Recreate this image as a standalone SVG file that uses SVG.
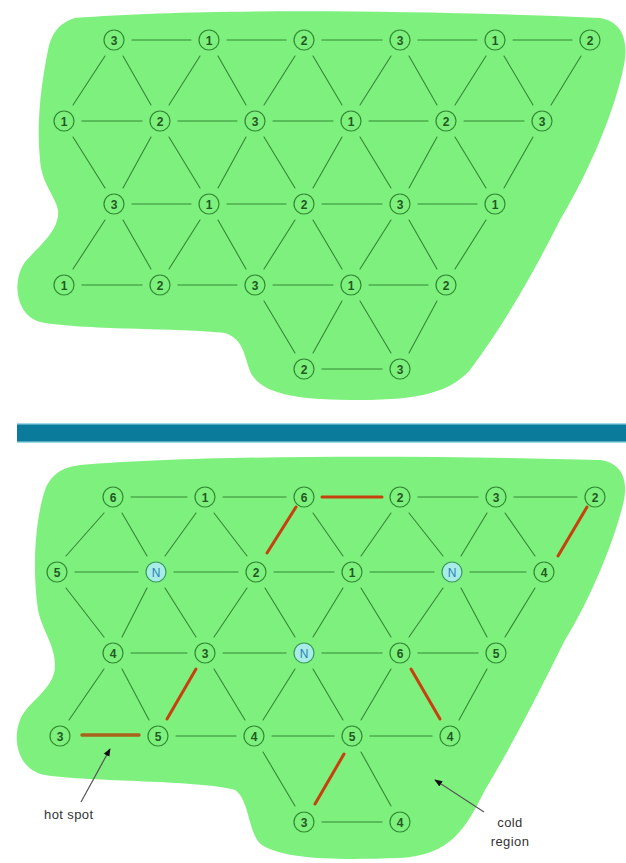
<svg xmlns="http://www.w3.org/2000/svg" width="626" height="863" viewBox="0 0 626 863">
<defs>
<style>
.blob{fill:#7ef07e;stroke:none}
.node circle{fill:#7ef07e;stroke:#2f8a2f;stroke-width:1.2}
.node.n circle{fill:#a8ece6;stroke:#3a9a5a}
.node text{font-family:"Liberation Sans",Arial,sans-serif;font-size:12px;font-weight:bold;fill:#1f5a1f;text-anchor:middle}
.node.n text{fill:#2a7fb8;font-weight:normal}
.e line{stroke:#338833;stroke-width:1.1;stroke-linecap:round}
.e line.r{stroke:#c8400e;stroke-width:3}
.e line.h{stroke:#a8621a;stroke-width:3.5}
.lbl{font-family:"Liberation Sans",Arial,sans-serif;font-size:13px;fill:#333;letter-spacing:0.4px}
.arr{stroke:#555;stroke-width:1.2;fill:none}
</style>
<marker id="ah" viewBox="0 0 10 10" refX="9" refY="5" markerWidth="8" markerHeight="8" orient="auto" markerUnits="userSpaceOnUse">
<path d="M0,1 L10,5 L0,9 Z" fill="#111"/>
</marker>
</defs>
<rect width="626" height="863" fill="#ffffff"/>
<g id="blobs">
<path class="blob" d="M75,18 C200,8 420,10 600,18 C625,22 628,45 624,65 C615,110 590,170 560,220 C530,280 500,330 470,370 C450,392 420,400 360,400 C300,400 265,395 252,375 C244,360 246,340 225,333 C180,328 80,330 40,322 C15,315 12,280 25,262 C40,245 60,230 58,210 C55,195 42,185 40,160 C36,120 42,80 48,50 C52,30 62,22 75,18 Z"/>
<path class="blob" d="M80,465 C200,455 420,455 600,460 C622,463 628,480 624,500 C615,540 590,600 565,640 C540,690 515,740 485,790 C465,830 450,855 400,858 C340,860 285,860 262,845 C248,835 250,800 235,790 C200,780 90,782 45,775 C18,770 12,740 20,720 C28,700 55,690 55,665 C55,645 42,630 38,610 C32,570 35,520 45,490 C52,472 65,467 80,465 Z"/>
</g>
<g id="divider">
<rect x="17" y="423" width="609" height="20" fill="#9fd8e6"/>
<rect x="17" y="424.5" width="609" height="17" fill="#0b7b9c"/>
</g>
<g id="connectors" class="e">
<!-- top horizontals -->
<line x1="132" y1="40" x2="191" y2="40"/><line x1="227" y1="40" x2="286" y2="40"/><line x1="322" y1="40" x2="382" y2="40"/><line x1="418" y1="40" x2="477" y2="40"/><line x1="513" y1="40" x2="572" y2="40"/>
<line x1="82" y1="121" x2="142" y2="121"/><line x1="178" y1="121" x2="237" y2="121"/><line x1="273" y1="121" x2="333" y2="121"/><line x1="369" y1="121" x2="428" y2="121"/><line x1="464" y1="121" x2="524" y2="121"/>
<line x1="132" y1="204" x2="191" y2="204"/><line x1="227" y1="204" x2="286" y2="204"/><line x1="322" y1="204" x2="382" y2="204"/><line x1="418" y1="204" x2="477" y2="204"/>
<line x1="82" y1="285" x2="142" y2="285"/><line x1="178" y1="285" x2="237" y2="285"/><line x1="273" y1="285" x2="333" y2="285"/><line x1="369" y1="285" x2="428" y2="285"/>
<line x1="322" y1="369" x2="382" y2="369"/>
<!-- top diagonals R1-R2 -->
<line x1="105" y1="56" x2="73" y2="105"/><line x1="123" y1="56" x2="151" y2="105"/><line x1="200" y1="56" x2="169" y2="105"/><line x1="218" y1="56" x2="246" y2="105"/><line x1="295" y1="56" x2="264" y2="105"/><line x1="313" y1="56" x2="342" y2="105"/><line x1="391" y1="56" x2="360" y2="105"/><line x1="409" y1="56" x2="437" y2="105"/><line x1="486" y1="56" x2="455" y2="105"/><line x1="504" y1="56" x2="533" y2="105"/><line x1="581" y1="56" x2="551" y2="105"/>
<!-- R2-R3 -->
<line x1="73" y1="137" x2="105" y2="188"/><line x1="151" y1="137" x2="123" y2="188"/><line x1="169" y1="137" x2="200" y2="188"/><line x1="246" y1="137" x2="218" y2="188"/><line x1="264" y1="137" x2="295" y2="188"/><line x1="342" y1="137" x2="313" y2="188"/><line x1="360" y1="137" x2="391" y2="188"/><line x1="437" y1="137" x2="409" y2="188"/><line x1="455" y1="137" x2="486" y2="188"/><line x1="533" y1="137" x2="504" y2="188"/>
<!-- R3-R4 -->
<line x1="105" y1="220" x2="73" y2="269"/><line x1="123" y1="220" x2="151" y2="269"/><line x1="200" y1="220" x2="169" y2="269"/><line x1="218" y1="220" x2="246" y2="269"/><line x1="295" y1="220" x2="264" y2="269"/><line x1="313" y1="220" x2="342" y2="269"/><line x1="391" y1="220" x2="360" y2="269"/><line x1="409" y1="220" x2="437" y2="269"/><line x1="486" y1="220" x2="455" y2="269"/>
<!-- R4-R5 -->
<line x1="264" y1="301" x2="295" y2="353"/><line x1="342" y1="301" x2="313" y2="353"/><line x1="360" y1="301" x2="391" y2="353"/><line x1="437" y1="301" x2="409" y2="353"/>
<!-- bottom horizontals -->
<line x1="131" y1="497" x2="187" y2="497"/><line x1="223" y1="497" x2="286" y2="497"/><line class="r" x1="322" y1="497" x2="382" y2="497"/><line x1="418" y1="497" x2="478" y2="497"/><line x1="514" y1="497" x2="577" y2="497"/>
<line x1="75" y1="572" x2="138" y2="572"/><line x1="174" y1="572" x2="238" y2="572"/><line x1="274" y1="572" x2="334" y2="572"/><line x1="370" y1="572" x2="434" y2="572"/><line x1="470" y1="572" x2="526" y2="572"/>
<line x1="131" y1="653" x2="187" y2="653"/><line x1="223" y1="653" x2="286" y2="653"/><line x1="322" y1="653" x2="382" y2="653"/><line x1="418" y1="653" x2="478" y2="653"/>
<line class="h" x1="82" y1="735" x2="139" y2="735"/><line x1="176" y1="736" x2="236" y2="736"/><line x1="272" y1="736" x2="334" y2="736"/><line x1="370" y1="736" x2="432" y2="736"/>
<line x1="322" y1="822" x2="382" y2="822"/>
<!-- bottom R1-R2 -->
<line x1="104" y1="513" x2="66" y2="556"/><line x1="122" y1="513" x2="147" y2="556"/><line x1="196" y1="513" x2="165" y2="556"/><line x1="214" y1="513" x2="247" y2="556"/><line class="r" x1="296" y1="507" x2="267" y2="553"/><line x1="313" y1="513" x2="343" y2="556"/><line x1="391" y1="513" x2="361" y2="556"/><line x1="409" y1="513" x2="443" y2="556"/><line x1="487" y1="513" x2="461" y2="556"/><line x1="505" y1="513" x2="535" y2="556"/><line class="r" x1="587" y1="507" x2="558" y2="556"/>
<!-- bottom R2-R3 -->
<line x1="66" y1="588" x2="104" y2="637"/><line x1="147" y1="588" x2="122" y2="637"/><line x1="165" y1="588" x2="196" y2="637"/><line x1="247" y1="588" x2="214" y2="637"/><line x1="265" y1="588" x2="295" y2="637"/><line x1="343" y1="588" x2="313" y2="637"/><line x1="361" y1="588" x2="391" y2="637"/><line x1="443" y1="588" x2="409" y2="637"/><line x1="461" y1="588" x2="487" y2="637"/><line x1="535" y1="588" x2="505" y2="637"/>
<!-- bottom R3-R4 -->
<line x1="104" y1="669" x2="69" y2="720"/><line x1="122" y1="669" x2="149" y2="720"/><line class="r" x1="196" y1="669" x2="167" y2="719"/><line x1="214" y1="669" x2="245" y2="720"/><line x1="295" y1="669" x2="263" y2="720"/><line x1="313" y1="669" x2="343" y2="720"/><line x1="391" y1="669" x2="361" y2="720"/><line class="r" x1="411" y1="669" x2="440" y2="719"/><line x1="487" y1="669" x2="459" y2="720"/>
<!-- bottom R4-R5 -->
<line x1="263" y1="752" x2="295" y2="806"/><line class="r" x1="344" y1="754" x2="315" y2="804"/><line x1="361" y1="752" x2="391" y2="806"/>
</g>
<g id="top-nodes">
<g id="t11" class="node"><circle cx="114" cy="40" r="10"/><text x="114" y="44.5">3</text></g>
<g id="t12" class="node"><circle cx="209" cy="40" r="10"/><text x="209" y="44.5">1</text></g>
<g id="t13" class="node"><circle cx="304" cy="40" r="10"/><text x="304" y="44.5">2</text></g>
<g id="t14" class="node"><circle cx="400" cy="40" r="10"/><text x="400" y="44.5">3</text></g>
<g id="t15" class="node"><circle cx="495" cy="40" r="10"/><text x="495" y="44.5">1</text></g>
<g id="t16" class="node"><circle cx="590" cy="40" r="10"/><text x="590" y="44.5">2</text></g>
<g id="t21" class="node"><circle cx="64" cy="121" r="10"/><text x="64" y="125.5">1</text></g>
<g id="t22" class="node"><circle cx="160" cy="121" r="10"/><text x="160" y="125.5">2</text></g>
<g id="t23" class="node"><circle cx="255" cy="121" r="10"/><text x="255" y="125.5">3</text></g>
<g id="t24" class="node"><circle cx="351" cy="121" r="10"/><text x="351" y="125.5">1</text></g>
<g id="t25" class="node"><circle cx="446" cy="121" r="10"/><text x="446" y="125.5">2</text></g>
<g id="t26" class="node"><circle cx="542" cy="121" r="10"/><text x="542" y="125.5">3</text></g>
<g id="t31" class="node"><circle cx="114" cy="204" r="10"/><text x="114" y="208.5">3</text></g>
<g id="t32" class="node"><circle cx="209" cy="204" r="10"/><text x="209" y="208.5">1</text></g>
<g id="t33" class="node"><circle cx="304" cy="204" r="10"/><text x="304" y="208.5">2</text></g>
<g id="t34" class="node"><circle cx="400" cy="204" r="10"/><text x="400" y="208.5">3</text></g>
<g id="t35" class="node"><circle cx="495" cy="204" r="10"/><text x="495" y="208.5">1</text></g>
<g id="t41" class="node"><circle cx="64" cy="285" r="10"/><text x="64" y="289.5">1</text></g>
<g id="t42" class="node"><circle cx="160" cy="285" r="10"/><text x="160" y="289.5">2</text></g>
<g id="t43" class="node"><circle cx="255" cy="285" r="10"/><text x="255" y="289.5">3</text></g>
<g id="t44" class="node"><circle cx="351" cy="285" r="10"/><text x="351" y="289.5">1</text></g>
<g id="t45" class="node"><circle cx="446" cy="285" r="10"/><text x="446" y="289.5">2</text></g>
<g id="t51" class="node"><circle cx="304" cy="369" r="10"/><text x="304" y="373.5">2</text></g>
<g id="t52" class="node"><circle cx="400" cy="369" r="10"/><text x="400" y="373.5">3</text></g>
</g>
<g id="bottom-nodes">
<g id="b11" class="node"><circle cx="113" cy="497" r="10"/><text x="113" y="501.5">6</text></g>
<g id="b12" class="node"><circle cx="205" cy="497" r="10"/><text x="205" y="501.5">1</text></g>
<g id="b13" class="node"><circle cx="304" cy="497" r="10"/><text x="304" y="501.5">6</text></g>
<g id="b14" class="node"><circle cx="400" cy="497" r="10"/><text x="400" y="501.5">2</text></g>
<g id="b15" class="node"><circle cx="496" cy="497" r="10"/><text x="496" y="501.5">3</text></g>
<g id="b16" class="node"><circle cx="595" cy="497" r="10"/><text x="595" y="501.5">2</text></g>
<g id="b21" class="node"><circle cx="57" cy="572" r="10"/><text x="57" y="576.5">5</text></g>
<g id="b22" class="node n"><circle cx="156" cy="572" r="10"/><text x="156" y="576.5">N</text></g>
<g id="b23" class="node"><circle cx="256" cy="572" r="10"/><text x="256" y="576.5">2</text></g>
<g id="b24" class="node"><circle cx="352" cy="572" r="10"/><text x="352" y="576.5">1</text></g>
<g id="b25" class="node n"><circle cx="452" cy="572" r="10"/><text x="452" y="576.5">N</text></g>
<g id="b26" class="node"><circle cx="544" cy="572" r="10"/><text x="544" y="576.5">4</text></g>
<g id="b31" class="node"><circle cx="113" cy="653" r="10"/><text x="113" y="657.5">4</text></g>
<g id="b32" class="node"><circle cx="205" cy="653" r="10"/><text x="205" y="657.5">3</text></g>
<g id="b33" class="node n"><circle cx="304" cy="653" r="10"/><text x="304" y="657.5">N</text></g>
<g id="b34" class="node"><circle cx="400" cy="653" r="10"/><text x="400" y="657.5">6</text></g>
<g id="b35" class="node"><circle cx="496" cy="653" r="10"/><text x="496" y="657.5">5</text></g>
<g id="b41" class="node"><circle cx="60" cy="736" r="10"/><text x="60" y="740.5">3</text></g>
<g id="b42" class="node"><circle cx="158" cy="736" r="10"/><text x="158" y="740.5">5</text></g>
<g id="b43" class="node"><circle cx="254" cy="736" r="10"/><text x="254" y="740.5">4</text></g>
<g id="b44" class="node"><circle cx="352" cy="736" r="10"/><text x="352" y="740.5">5</text></g>
<g id="b45" class="node"><circle cx="450" cy="736" r="10"/><text x="450" y="740.5">4</text></g>
<g id="b51" class="node"><circle cx="304" cy="822" r="10"/><text x="304" y="826.5">3</text></g>
<g id="b52" class="node"><circle cx="400" cy="822" r="10"/><text x="400" y="826.5">4</text></g>
</g>
<g id="annotations">
<line class="arr" x1="81" y1="802" x2="110" y2="749" marker-end="url(#ah)"/>
<text class="lbl" x="44" y="819">hot spot</text>
<line class="arr" x1="484" y1="812" x2="435" y2="780" marker-end="url(#ah)"/>
<text class="lbl" x="510" y="827" text-anchor="middle">cold</text>
<text class="lbl" x="510" y="846" text-anchor="middle">region</text>
</g>
</svg>
